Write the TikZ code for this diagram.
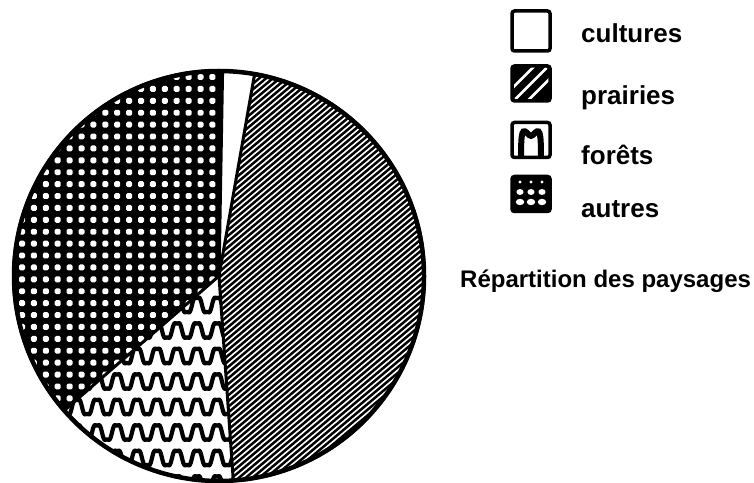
\documentclass[tikz,border=0pt]{standalone}
\usepackage{fontspec}
\setmainfont{Liberation Sans}
\begin{document}
\begin{tikzpicture}[x=1pt,y=1pt,
  legbox/.style={draw=black, line width=3.5pt, rounded corners=2.5pt, minimum width=38pt, minimum height=35pt, inner sep=0pt},
  lab/.style={anchor=base west, inner sep=0pt, font=\fontsize{26}{30}\selectfont\bfseries},
  ttl/.style={anchor=base west, inner sep=0pt, font=\fontsize{24}{28}\selectfont\bfseries},
  edge/.style={line width=3pt, line cap=round}]
\useasboundingbox (0,0) rectangle (754,482);
\def\R{207}
\coordinate (O) at (219,206);
% autres
\begin{scope}
  \clip (O) -- ++(89:\R) arc[start angle=89,end angle=221,radius=\R] -- cycle;
  \fill[black] (0,0) rectangle (440,482);
  \foreach \i in {0,...,18} \foreach \j in {0,...,30}
    {\fill[white, rounded corners=1.5pt] ({22+11.9*\i-3},{482-(77+11.9*\j)-3}) rectangle ++(6,5.9);}
\end{scope}
% forets
\begin{scope}
  \clip (O) -- ++(221:\R) arc[start angle=221,end angle=274,radius=\R] -- cycle;
  \fill[white] (0,0) rectangle (300,300);
  \foreach \k in {0,...,8}
    \draw[line width=4.2pt] plot[domain=40:250,samples=420]
      (\x,{482-(305+25.5*\k) + 8.5*(sin(18*(\x-132))+0.18*sin(54*(\x-132)))});
\end{scope}
% prairies
\begin{scope}
  \clip (O) -- ++(-86:\R) arc[start angle=-86,end angle=80,radius=\R] -- cycle;
  \fill[black] (200,0) rectangle (440,482);
  \foreach \k in {0,...,110}
    \draw[white,line width=1.6pt] ({-300+6.8*\k},0) -- ++(40:900);
\end{scope}
% outlines
\draw[line width=4.5pt] (O) circle[radius=\R-2];
\draw[edge] (O) -- ++(89:\R-2);
\draw[edge] (O) -- ++(80:\R-2);
\draw[edge] (O) -- ++(-86:\R-2);
\draw[edge] (O) -- ++(221:\R-2);
% legend
\node[legbox, fill=white, minimum height=40pt] (bc) at (531,451) {};
\node[legbox, fill=black,
  path picture={\foreach \d in {-7,0,7}
    \draw[white,line width=2.6pt] ([shift={(\d,-\d)}]path picture bounding box.center) ++(225:22) -- ++(45:44);}]
  (bp) at (531,398.5) {};
\node[legbox, fill=white,
  path picture={\draw[line width=6pt]
    ([shift={(-10,-20)}]path picture bounding box.center) .. controls +(0,30) and +(-9,10) .. ([shift={(0,3)}]path picture bounding box.center)
    .. controls +(9,10) and +(0,30) .. ([shift={(10,-20)}]path picture bounding box.center);}]
  (bf) at (531,342) {};
\node[legbox, fill=black,
  path picture={
    \foreach \dx in {-11,0,11} {
      \fill[white] ([shift={(\dx,12)}]path picture bounding box.center) circle[radius=1.6];
      \fill[white] ([shift={(\dx,2)}]path picture bounding box.center) ellipse[x radius=3.6,y radius=3];
      \fill[white] ([shift={(\dx,-8)}]path picture bounding box.center) ellipse[x radius=4.2,y radius=3.2];}}]
  (ba) at (531,288) {};
\node[lab] (lc) at (581,439) {cultures};
\node[lab] (lp) at (581,377) {prairies};
\node[lab] (lf) at (581,317) {forêts};
\node[lab] (la) at (581,264) {autres};
\node[ttl] (title) at (460,194) {Répartition des paysages};
\end{tikzpicture}
\end{document}
